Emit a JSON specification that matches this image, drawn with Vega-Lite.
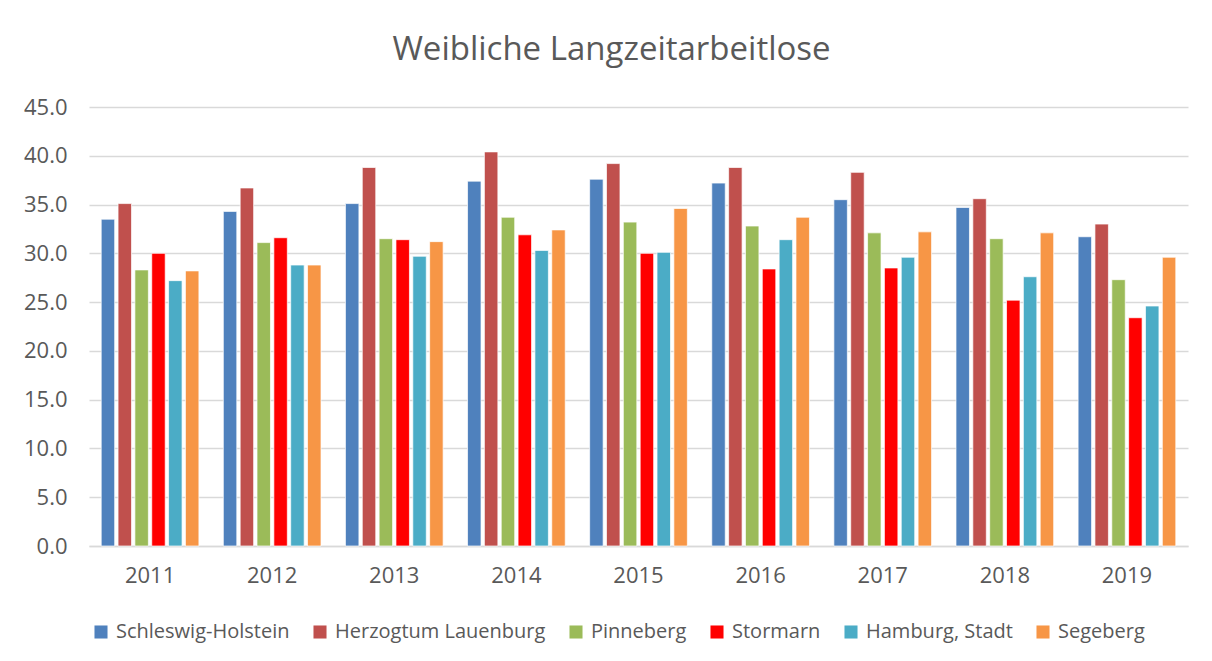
{
  "$schema": "https://vega.github.io/schema/vega-lite/v6.json",
  "autosize": {"type": "none"},
  "padding": {"left": 89, "top": 107, "right": 24, "bottom": 115},
  "width": 1099,
  "height": 439,
  "background": "white",
  "title": {
    "text": "Weibliche Langzeitarbeitlose",
    "font": "Open Sans",
    "fontSize": 33,
    "fontWeight": "normal",
    "color": "#595959",
    "anchor": "middle",
    "dx": -27,
    "offset": 29
  },
  "data": {
    "values": [
      {"year": "2011", "region": "Schleswig-Holstein", "value": 33.5},
      {"year": "2011", "region": "Herzogtum Lauenburg", "value": 35.1},
      {"year": "2011", "region": "Pinneberg", "value": 28.3},
      {"year": "2011", "region": "Stormarn", "value": 30.0},
      {"year": "2011", "region": "Hamburg, Stadt", "value": 27.2},
      {"year": "2011", "region": "Segeberg", "value": 28.2},
      {"year": "2012", "region": "Schleswig-Holstein", "value": 34.3},
      {"year": "2012", "region": "Herzogtum Lauenburg", "value": 36.7},
      {"year": "2012", "region": "Pinneberg", "value": 31.1},
      {"year": "2012", "region": "Stormarn", "value": 31.6},
      {"year": "2012", "region": "Hamburg, Stadt", "value": 28.8},
      {"year": "2012", "region": "Segeberg", "value": 28.8},
      {"year": "2013", "region": "Schleswig-Holstein", "value": 35.1},
      {"year": "2013", "region": "Herzogtum Lauenburg", "value": 38.8},
      {"year": "2013", "region": "Pinneberg", "value": 31.5},
      {"year": "2013", "region": "Stormarn", "value": 31.4},
      {"year": "2013", "region": "Hamburg, Stadt", "value": 29.7},
      {"year": "2013", "region": "Segeberg", "value": 31.2},
      {"year": "2014", "region": "Schleswig-Holstein", "value": 37.4},
      {"year": "2014", "region": "Herzogtum Lauenburg", "value": 40.4},
      {"year": "2014", "region": "Pinneberg", "value": 33.7},
      {"year": "2014", "region": "Stormarn", "value": 31.9},
      {"year": "2014", "region": "Hamburg, Stadt", "value": 30.3},
      {"year": "2014", "region": "Segeberg", "value": 32.4},
      {"year": "2015", "region": "Schleswig-Holstein", "value": 37.6},
      {"year": "2015", "region": "Herzogtum Lauenburg", "value": 39.2},
      {"year": "2015", "region": "Pinneberg", "value": 33.2},
      {"year": "2015", "region": "Stormarn", "value": 30.0},
      {"year": "2015", "region": "Hamburg, Stadt", "value": 30.1},
      {"year": "2015", "region": "Segeberg", "value": 34.6},
      {"year": "2016", "region": "Schleswig-Holstein", "value": 37.2},
      {"year": "2016", "region": "Herzogtum Lauenburg", "value": 38.8},
      {"year": "2016", "region": "Pinneberg", "value": 32.8},
      {"year": "2016", "region": "Stormarn", "value": 28.4},
      {"year": "2016", "region": "Hamburg, Stadt", "value": 31.4},
      {"year": "2016", "region": "Segeberg", "value": 33.7},
      {"year": "2017", "region": "Schleswig-Holstein", "value": 35.5},
      {"year": "2017", "region": "Herzogtum Lauenburg", "value": 38.3},
      {"year": "2017", "region": "Pinneberg", "value": 32.1},
      {"year": "2017", "region": "Stormarn", "value": 28.5},
      {"year": "2017", "region": "Hamburg, Stadt", "value": 29.6},
      {"year": "2017", "region": "Segeberg", "value": 32.2},
      {"year": "2018", "region": "Schleswig-Holstein", "value": 34.7},
      {"year": "2018", "region": "Herzogtum Lauenburg", "value": 35.6},
      {"year": "2018", "region": "Pinneberg", "value": 31.5},
      {"year": "2018", "region": "Stormarn", "value": 25.2},
      {"year": "2018", "region": "Hamburg, Stadt", "value": 27.6},
      {"year": "2018", "region": "Segeberg", "value": 32.1},
      {"year": "2019", "region": "Schleswig-Holstein", "value": 31.7},
      {"year": "2019", "region": "Herzogtum Lauenburg", "value": 33.0},
      {"year": "2019", "region": "Pinneberg", "value": 27.3},
      {"year": "2019", "region": "Stormarn", "value": 23.4},
      {"year": "2019", "region": "Hamburg, Stadt", "value": 24.6},
      {"year": "2019", "region": "Segeberg", "value": 29.6}
    ]
  },
  "mark": {"type": "bar", "stroke": "white", "strokeWidth": 1, "strokeOpacity": 0.7},
  "encoding": {
    "x": {
      "field": "year",
      "type": "nominal",
      "scale": {"paddingInner": 0.2, "paddingOuter": 0.1},
      "axis": {
        "title": null,
        "labelAngle": 0,
        "labelFont": "Open Sans",
        "labelFontSize": 22,
        "labelColor": "#595959",
        "labelPadding": 19,
        "ticks": false,
        "domainColor": "#D9D9D9",
        "domainWidth": 1.5,
        "grid": false
      }
    },
    "xOffset": {
      "field": "region",
      "type": "nominal",
      "sort": ["Schleswig-Holstein", "Herzogtum Lauenburg", "Pinneberg", "Stormarn", "Hamburg, Stadt", "Segeberg"],
      "scale": {"paddingInner": 0.2, "paddingOuter": 0}
    },
    "y": {
      "field": "value",
      "type": "quantitative",
      "scale": {"domain": [0, 45], "nice": false},
      "axis": {
        "title": null,
        "values": [0, 5, 10, 15, 20, 25, 30, 35, 40, 45],
        "format": ".1f",
        "labelFont": "Open Sans",
        "labelFontSize": 22,
        "labelColor": "#595959",
        "labelPadding": 22,
        "ticks": false,
        "domain": false,
        "gridColor": "#D9D9D9",
        "gridWidth": 1.3
      }
    },
    "color": {
      "field": "region",
      "type": "nominal",
      "sort": ["Schleswig-Holstein", "Herzogtum Lauenburg", "Pinneberg", "Stormarn", "Hamburg, Stadt", "Segeberg"],
      "scale": {
        "domain": ["Schleswig-Holstein", "Herzogtum Lauenburg", "Pinneberg", "Stormarn", "Hamburg, Stadt", "Segeberg"],
        "range": ["#4F81BD", "#C0504D", "#9BBB59", "#FF0000", "#4BACC6", "#F79646"]
      },
      "legend": {
        "title": null,
        "orient": "none",
        "legendX": 2,
        "legendY": 515,
        "direction": "horizontal",
        "columns": 6,
        "symbolType": "square",
        "symbolSize": 170,
        "symbolStrokeWidth": 0,
        "symbolOpacity": 1,
        "labelFont": "Open Sans",
        "labelFontSize": 20,
        "labelColor": "#595959",
        "labelOffset": 5,
        "columnPadding": 20,
        "labelLimit": 400
      }
    }
  },
  "config": {"view": {"stroke": null}}
}
